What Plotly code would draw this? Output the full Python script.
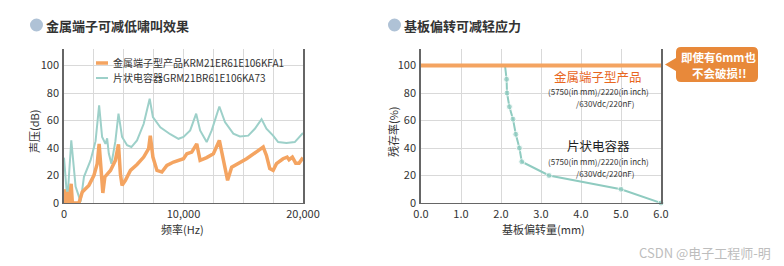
import plotly.graph_objects as go

W, H = 784, 266

# ---------------- data ----------------
# Left chart: sound pressure vs frequency
freq_teal = [0, 280, 610, 970, 1390, 1670, 2220, 2640, 2940, 3190, 3470, 3610, 3750, 3970,
             4300, 4560, 4860, 5280, 5640, 6110, 6670, 7170, 7440, 8060, 8890, 9580, 10000,
             10560, 11060, 11390, 11940, 12360, 13000, 13470, 14170, 14720, 15420, 15970,
             16530, 16940, 17500, 17920, 18610, 19310, 20000]
db_teal = [33, 2, 45.5, 12, 1, 19, 31, 45, 71, 48, 43, 47, 36, 28.5,
           45, 65, 48, 42, 40.7, 45.5, 57.6, 75.8, 62.5, 55, 50, 46.7, 48,
           52.8, 65, 52.8, 44.3, 52.8, 70.2, 58.8, 50.4, 48.4, 49, 54,
           61, 54, 49, 44.3, 43.6, 44.3, 51]

freq_orange = [0, 150, 300, 450, 600, 700, 1100, 1250, 1530, 2080, 2500, 2780, 2940, 3110,
               3250, 3420, 3610, 3890, 4300, 4560, 4720, 4860, 5140, 5560, 6110, 6670, 7080,
               7220, 7440, 7780, 8190, 8610, 9170, 10000, 10280, 10690, 11110, 11390, 11940,
               12500, 13000, 13330, 13690, 14030, 14300, 15280, 16670, 16940, 17220, 17500,
               17780, 18330, 18670, 18830, 19110, 19390, 19670, 20000]
db_orange = [10, 0, 8, 0, 14, 0, 0, 0, 8, 12.8, 20, 28.6, 43, 21,
             7.3, 19, 21, 23.7, 31, 42.6, 21, 12.8, 16.5, 23.7, 28, 33.4, 39.5,
             49, 33.4, 23.7, 22.5, 27.3, 29.8, 32.2, 35.8, 37, 43, 31, 33,
             35.8, 45.5, 31, 16.5, 26, 27.3, 32.2, 40.7, 34.6, 25, 23.7,
             28.6, 32.2, 33.4, 31.5, 33.4, 29, 29, 33]

# Right chart: survival rate vs board deflection
defl_metal = [0.0, 6.0]
surv_metal = [100, 100]
defl_chip = [2.1, 2.14, 2.15, 2.21, 2.3, 2.37, 2.46, 2.52, 3.2, 5.0, 6.0]
surv_chip = [100, 90, 80, 70, 61, 50, 40, 30, 20, 10, 0]

left_xticks = [0, 2500, 5000, 7500, 10000, 12500, 15000, 17500, 20000]
left_xticklabels = ["0", "", "", "", "10,000", "", "", "", "20,000"]
yticks = [0, 20, 40, 60, 80, 100]
right_xticks = [0, 1, 2, 3, 4, 5, 6]
right_xticklabels = ["0.0", "1.0", "2.0", "3.0", "4.0", "5.0", "6.0"]

ORANGE = "#F4A461"
TEAL = "#9DD0C9"
TEAL2 = "#8FCBC0"
FONT = "Noto Sans CJK SC"

def px(x):
    return x / W

def py(y):
    return 1 - y / H

fig = go.Figure()

fig.add_trace(go.Scatter(x=freq_teal, y=db_teal, mode="lines",
                         line=dict(color=TEAL, width=2), xaxis="x", yaxis="y",
                         showlegend=False))
fig.add_trace(go.Scatter(x=freq_orange, y=db_orange, mode="lines",
                         line=dict(color=ORANGE, width=3.5), xaxis="x", yaxis="y",
                         showlegend=False))

fig.add_trace(go.Scatter(x=defl_chip, y=surv_chip, mode="lines+markers",
                         line=dict(color=TEAL2, width=2),
                         marker=dict(color=TEAL2, size=[0] + [6] * (len(surv_chip) - 1)),
                         xaxis="x2", yaxis="y2", showlegend=False, cliponaxis=False))
fig.add_trace(go.Scatter(x=defl_metal, y=surv_metal, mode="lines",
                         line=dict(color=ORANGE, width=4), xaxis="x2", yaxis="y2",
                         showlegend=False, cliponaxis=False))

axis_common = dict(showgrid=True, gridcolor="#d9d9d9", gridwidth=1, zeroline=False,
                   ticks="", tickfont=dict(family=FONT, size=11, color="#333"),
                   fixedrange=True, automargin=False)

fig.update_layout(
    width=W, height=H, margin=dict(l=0, r=0, t=0, b=0, autoexpand=False),
    paper_bgcolor="white", plot_bgcolor="white", showlegend=False,
    font=dict(family=FONT, color="#333"),
    xaxis=dict(domain=[px(64), px(303)], range=[0, 20000], tickvals=left_xticks,
               ticktext=left_xticklabels, anchor="y", showline=True, linecolor="#666",
               linewidth=1, ticklabelstandoff=1, **axis_common),
    yaxis=dict(domain=[py(203), py(49)], range=[0, 112], tickvals=yticks, anchor="x",
               showline=True, linecolor="#666", linewidth=1.5, mirror=True,
               ticklabelstandoff=1, **axis_common),
    xaxis2=dict(domain=[px(421), px(661)], range=[0, 6], tickvals=right_xticks,
                ticktext=right_xticklabels, anchor="y2", showline=True, linecolor="#666",
                linewidth=1, ticklabelstandoff=1, **axis_common),
    yaxis2=dict(domain=[py(203), py(49)], range=[0, 112], tickvals=yticks, anchor="x2",
                showline=True, linecolor="#666", linewidth=1.5, mirror=True,
                ticklabelstandoff=1, **axis_common),
)

shapes = []
ann = []

def text(x, y, s, size=11, color="#333", bold=False, xanchor="center", angle=0, family=FONT):
    ann.append(dict(x=px(x), y=py(y), xref="paper", yref="paper", text=(f"<b>{s}</b>" if bold else s),
                    showarrow=False, xanchor=xanchor, yanchor="middle", textangle=angle,
                    font=dict(family=family, size=size, color=color)))

# titles with circles
for cx, tx, title in [(36.5, 44, "金属端子可减低啸叫效果"), (394.5, 402, "基板偏转可减轻应力")]:
    shapes.append(dict(type="circle", xref="paper", yref="paper",
                       x0=px(cx - 6.5), x1=px(cx + 6.5), y0=py(25 + 6.5), y1=py(25 - 6.5),
                       fillcolor="#AFC2D6", line=dict(width=0)))
    text(tx, 25, title, size=13, color="#333", bold=True, xanchor="left")

# axis titles
text(182, 229, "频率(Hz)", size=11)
text(34, 132, "声压(dB)", size=11, angle=-90)
text(543, 229, "基板偏转量(mm)", size=11)
text(393, 132, "残存率(%)", size=11, angle=-90)

# manual legend (white background over gridlines)
shapes.append(dict(type="rect", xref="paper", yref="paper", layer="between",
                   x0=px(92), x1=px(285), y0=py(86), y1=py(55),
                   fillcolor="white", line=dict(width=0)))
shapes.append(dict(type="line", xref="paper", yref="paper", x0=px(96), x1=px(108),
                   y0=py(63), y1=py(63), line=dict(color=ORANGE, width=3.5)))
shapes.append(dict(type="line", xref="paper", yref="paper", x0=px(96), x1=px(108),
                   y0=py(78), y1=py(78), line=dict(color=TEAL, width=2)))
text(111, 63, "金属端子型产品KRM21ER61E106KFA1", size=10, color="#333", xanchor="left")
text(111, 78, "片状电容器GRM21BR61E106KA73", size=10, color="#333", xanchor="left")

# right chart annotations
text(598, 76, "金属端子型产品", size=12.5, color="#E8661E")
text(598, 91.5, "(5750(in mm)/2220(in inch)", size=8, color="#333")
text(605, 103, "/630Vdc/220nF)", size=8, color="#333")
text(598, 145.5, "片状电容器", size=12.5, color="#222")
text(598, 161, "(5750(in mm)/2220(in inch)", size=8, color="#333")
text(605, 173, "/630Vdc/220nF)", size=8, color="#333")

# callout
def P(x, y):
    return f"{px(x):.5f},{py(y):.5f}"

bx0, bx1, by0, by1, r = 676, 758, 47, 82, 5
path = (f"M {P(bx0 + r, by0)} L {P(bx1 - r, by0)} Q {P(bx1, by0)} {P(bx1, by0 + r)} "
        f"L {P(bx1, by1 - r)} Q {P(bx1, by1)} {P(bx1 - r, by1)} L {P(bx0 + r, by1)} "
        f"Q {P(bx0, by1)} {P(bx0, by1 - r)} L {P(bx0, 71)} L {P(665, 64.5)} L {P(bx0, 58)} "
        f"L {P(bx0, by0 + r)} Q {P(bx0, by0)} {P(bx0 + r, by0)} Z")
shapes.append(dict(type="path", xref="paper", yref="paper", path=path,
                   fillcolor="#E8893A", line=dict(width=0)))
text(718, 57, "即使有6mm也", size=11.5, color="white", bold=True)
text(719, 73, "不会破损!!", size=11.5, color="white", bold=True)

# watermark
text(705, 252, "CSDN @电子工程师-明", size=13, color="#bdbdbd")

fig.update_layout(shapes=shapes, annotations=ann)
fig.write_html("out.html")
